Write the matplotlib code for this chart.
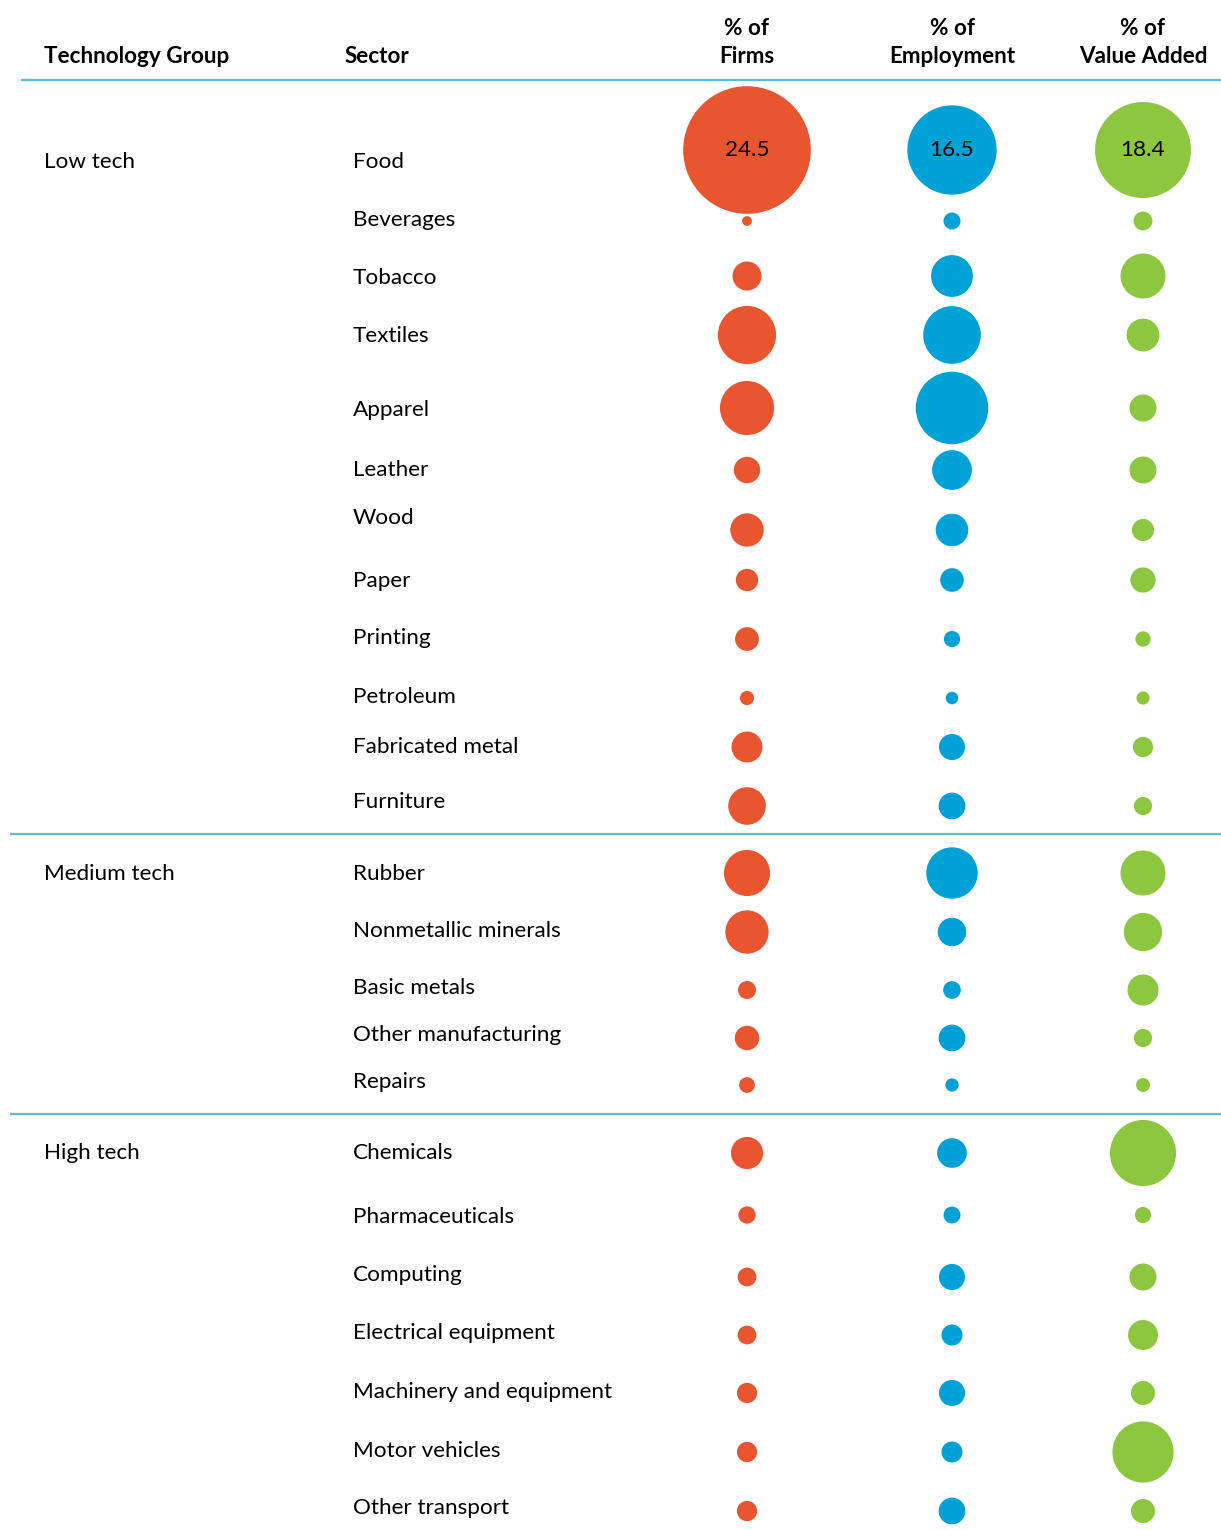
import matplotlib
matplotlib.use('Agg')
import matplotlib.pyplot as plt
from matplotlib.patches import Circle

plt.rcParams['font.family'] = ['Lato', 'DejaVu Sans']

# data: share of manufacturing (%) by sector
sectors = ['Food', 'Beverages', 'Tobacco', 'Textiles', 'Apparel', 'Leather', 'Wood',
           'Paper', 'Printing', 'Petroleum', 'Fabricated metal', 'Furniture',
           'Rubber', 'Nonmetallic minerals', 'Basic metals', 'Other manufacturing', 'Repairs',
           'Chemicals', 'Pharmaceuticals', 'Computing', 'Electrical equipment',
           'Machinery and equipment', 'Motor vehicles', 'Other transport']
tech_group = ['Low tech'] * 12 + ['Medium tech'] * 5 + ['High tech'] * 7

firms = [24.5, 0.8, 3.4, 8.6, 7.8, 3.0, 4.1, 2.4, 2.6, 1.3, 3.7, 4.8,
         6.3, 5.8, 1.8, 2.7, 1.5,
         3.9, 1.7, 1.9, 1.9, 2.1, 2.1, 2.1]
employment = [16.5, 1.8, 6.0, 9.2, 12.5, 5.6, 4.3, 2.8, 1.7, 1.2, 3.2, 3.3,
              7.9, 3.6, 1.9, 3.3, 1.3,
              3.8, 1.8, 3.2, 2.4, 3.2, 2.4, 3.3]
value_added = [18.4, 2.1, 6.7, 4.4, 3.4, 3.4, 2.6, 3.1, 1.6, 1.3, 2.3, 2.0,
               6.7, 5.4, 4.1, 2.0, 1.4,
               11.2, 1.7, 3.4, 3.9, 2.9, 10.1, 2.9]
columns = [firms, employment, value_added]
col_headers = ['% of\nFirms', '% of\nEmployment', '% of\nValue Added']

# layout in pixel units
W, H = 1221, 1530
row_y = [150, 221, 276, 335, 408, 470, 530, 580, 639, 698, 747, 806,
         873, 932, 990, 1038, 1085,
         1153, 1215, 1277, 1335, 1393, 1452, 1511]
label_y = [168, 226, 284, 342, 416, 476, 524, 587, 644, 703, 753, 808,
           880, 937, 994, 1041, 1088,
           1159, 1223, 1281, 1339, 1398, 1457, 1514]
col_x = [747, 952, 1143]
max_diam = [127.6, 89.3, 95.9]
colors = ['#E8552F', '#00A1D6', '#8DC63F']
rule_color = '#5BBAE0'
fs = 16.2

fig = plt.figure(figsize=(W / 100, H / 100), dpi=100)
ax = fig.add_axes([0, 0, 1, 1])
ax.set_xlim(0, W)
ax.set_ylim(H, 0)
ax.axis('off')

# header
ax.text(44, 63, 'Technology Group', fontsize=fs, fontweight='bold', va='baseline')
ax.text(345, 63, 'Sector', fontsize=fs, fontweight='bold', va='baseline')
for x, h in zip(col_x, col_headers):
    top, bottom = h.split('\n')
    ax.text(x, 35, top, fontsize=fs, fontweight='bold', ha='center', va='baseline')
    ax.text(x, 63, bottom, fontsize=fs, fontweight='bold', ha='center', va='baseline')
ax.plot([21, W], [80, 80], color=rule_color, lw=1.6, solid_capstyle='butt')

# rows
prev = None
for i, (sec, grp) in enumerate(zip(sectors, tech_group)):
    if grp != prev:
        ax.text(44, label_y[i], grp, fontsize=fs, va='baseline')
        if prev is not None:
            sep = (row_y[i - 1] + row_y[i]) / 2 - 5.5
            ax.plot([10, W], [sep, sep], color=rule_color, lw=1.6, solid_capstyle='butt')
        prev = grp
    ax.text(353, label_y[i], sec, fontsize=fs, va='baseline')
    for j, vals in enumerate(columns):
        d = max_diam[j] * (vals[i] / max(vals)) ** 0.75
        ax.add_patch(Circle((col_x[j], row_y[i]), d / 2, color=colors[j], lw=0))
        if vals[i] == max(vals) and i == 0:
            ax.text(col_x[j], row_y[i], f'{vals[i]:.1f}', fontsize=fs,
                    ha='center', va='center')

fig.savefig('out.png', dpi=100)
